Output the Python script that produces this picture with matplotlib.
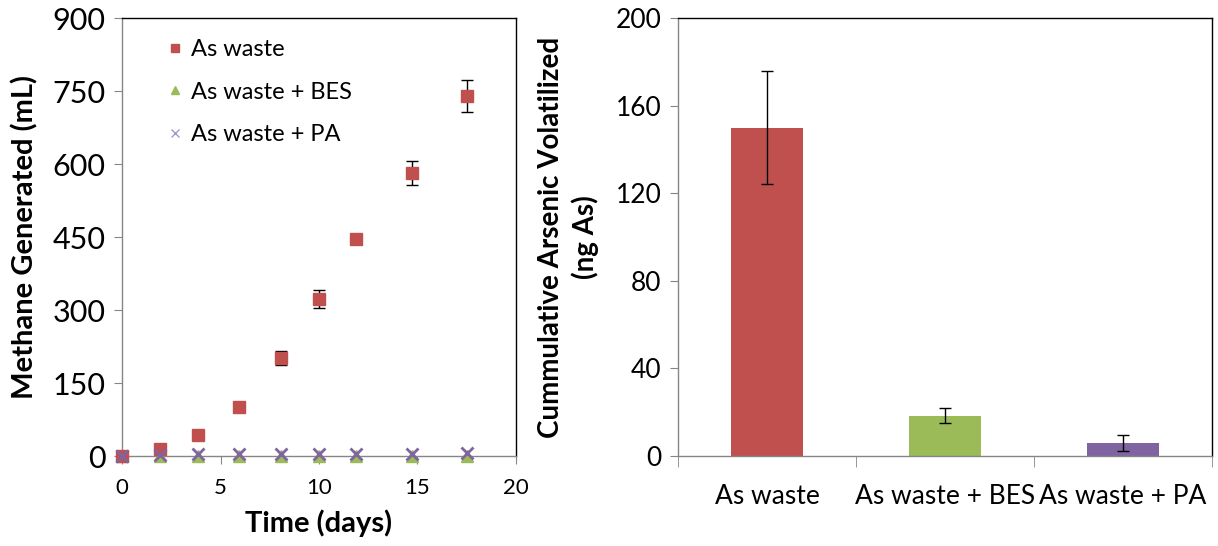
import numpy as np
import matplotlib
matplotlib.use("Agg")
import matplotlib.pyplot as plt

plt.rcParams['font.family'] = ['Lato', 'DejaVu Sans']

# methane over time
days = [0, 1.93, 3.85, 5.92, 8.08, 10.0, 11.9, 14.7, 17.5]
ch4_waste = [0, 14, 43, 101, 201, 323, 446, 581, 740]
ch4_waste_err = [0, 3, 3, 5, 14, 18, 4, 25, 33]
ch4_bes = [0, 0, 0, 0, 0, 0, 0, 0, 0]
ch4_pa = [0, 3, 4, 4, 4, 4, 4, 5, 6]

# arsenic volatilized
groups = ["As waste", "As waste + BES", "As waste + PA"]
arsenic = [150, 18.5, 6]
arsenic_err = [26, 3.5, 3.5]

red = '#c0504d'
green = '#9bbb59'
purple = '#8064a2'
grey = '#868686'

fig = plt.figure(figsize=(12.18, 5.46), dpi=100)
ax1 = fig.add_axes([0.1002, 0.1648, 0.3234, 0.8022])
ax2 = fig.add_axes([0.5567, 0.1648, 0.4383, 0.8022])

# left panel: scatter with error bars
ax1.errorbar(days, ch4_waste, yerr=ch4_waste_err, fmt='none', ecolor='black',
             elinewidth=1, capsize=4, zorder=3, clip_on=False)
h_waste, = ax1.plot(days, ch4_waste, 's', color=red, ms=8, zorder=4, clip_on=False)
h_bes, = ax1.plot(days, ch4_bes, '^', color=green, ms=8, zorder=3, clip_on=False)
h_pa, = ax1.plot(days, ch4_pa, 'x', color=purple, ms=8, mew=2, zorder=5, clip_on=False)
ax1.set_xlim(0, 20)
ax1.set_ylim(0, 900)
ax1.set_xticks([0, 5, 10, 15, 20])
ax1.set_yticks([0, 150, 300, 450, 600, 750, 900])
ax1.tick_params(axis='y', labelsize=22, length=6, color=grey, direction='out', pad=6)
ax1.tick_params(axis='x', labelsize=16, length=6, color=grey, direction='out', pad=10)
ax1.set_ylabel("Methane Generated (mL)", fontsize=21, fontweight='bold', labelpad=10)
ax1.set_xlabel("Time (days)", fontsize=21, fontweight='bold', labelpad=8)
leg = ax1.legend([h_waste, h_bes, h_pa], ["As waste", "As waste + BES", "As waste + PA"],
                 loc='upper left', bbox_to_anchor=(0.05, 1.0), frameon=False,
                 fontsize=17, handletextpad=0.2, labelspacing=0.9, handlelength=1.0,
                 markerscale=0.8)
leg.legend_handles[2].set_markeredgewidth(1)
leg.legend_handles[2].set_color('#a898c8')

# right panel: bars with error bars
xpos = np.arange(len(groups))
ax2.bar(xpos, arsenic, width=0.4, color=[red, green, purple], zorder=2)
ax2.errorbar(xpos, arsenic, yerr=arsenic_err, fmt='none', ecolor='black',
             elinewidth=1, capsize=4, zorder=3)
ax2.set_xlim(-0.5, 2.5)
ax2.set_ylim(0, 200)
ax2.set_yticks([0, 40, 80, 120, 160, 200])
ax2.set_xticks(xpos)
ax2.set_xticklabels(groups)
ax2.set_xticks([-0.5, 0.5, 1.5, 2.5], minor=True)
ax2.tick_params(axis='x', which='major', length=0, labelsize=19, pad=20)
ax2.tick_params(axis='x', which='minor', length=8, color=grey)
ax2.tick_params(axis='y', labelsize=19, length=6, color=grey, pad=6)
ax2.set_ylabel("Cummulative Arsenic Volatilized\n(ng As)", fontsize=20,
               fontweight='bold', labelpad=12, linespacing=1.3)

for ax in (ax1, ax2):
    ax.spines['left'].set_color(grey)
    ax.spines['bottom'].set_color(grey)
    ax.spines['top'].set_color('black')
    ax.spines['right'].set_color('black')
    for s in ax.spines.values():
        s.set_linewidth(1)

plt.savefig("out.png", dpi=100)
